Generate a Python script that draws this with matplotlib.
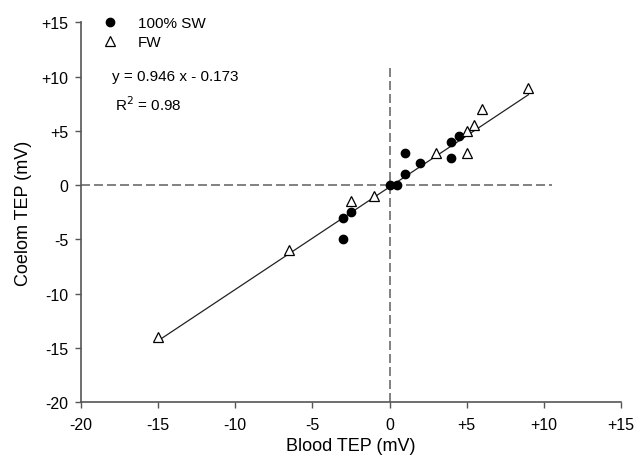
import matplotlib
matplotlib.use("agg")
import matplotlib.pyplot as plt
import numpy as np

plt.rcParams["font.family"] = ["Liberation Sans", "DejaVu Sans"]

# 100% SW (filled circles)
sw_blood = [-3, -3, -2.5, 0, 0.5, 1, 1, 2, 4, 4, 4.5]
sw_coelom = [-5, -3, -2.5, 0, 0, 1, 3, 2, 2.5, 4, 4.5]

# FW (open triangles)
fw_blood = [-15, -6.5, -2.5, -1, 3, 5, 5, 5.5, 6, 9]
fw_coelom = [-14, -6, -1.5, -1, 3, 3, 5, 5.5, 7, 9]

slope = 0.946
intercept = -0.173
fit_x = [-15, 9]

ticks = [-20, -15, -10, -5, 0, 5, 10, 15]
tick_labels = ["-20", "-15", "-10", "-5", "0", "+5", "+10", "+15"]

fig = plt.figure(figsize=(6.41, 4.6), dpi=100)
ax = fig.add_axes([0.126, 0.124, 0.843, 0.825])

dash = (0, (5, 2.2))
ax.plot([-20, 10.5], [0, 0], ls=dash, color="#777777", lw=1.3, zorder=1)
ax.plot([0, 0], [-20, 11], ls=dash, color="#777777", lw=1.3, zorder=1)

fx = np.array(fit_x)
ax.plot(fx, slope * fx + intercept, color="#222222", lw=0.9, zorder=2)

ax.plot(sw_blood, sw_coelom, "o", color="black", ms=6, ls="none",
        label="100% SW", zorder=3)
ax.plot(fw_blood, fw_coelom, "^", mfc="white", mec="black", mew=0.9, ms=6.7,
        ls="none", label="FW", zorder=3)

ax.set_xlim(-20, 15)
ax.set_ylim(-20, 15)
ax.set_xticks(ticks)
ax.set_xticklabels(tick_labels)
ax.set_yticks(ticks)
ax.set_yticklabels(tick_labels)
ax.tick_params(direction="out", length=4, width=1, labelsize=11.5, color="#555555")
ax.tick_params(axis="x", pad=6.5)
ax.tick_params(axis="y", pad=5)
ax.spines["top"].set_visible(False)
ax.spines["right"].set_visible(False)
for s in ["left", "bottom"]:
    ax.spines[s].set_color("#555555")
    ax.spines[s].set_linewidth(1.2)

ax.set_xlabel("Blood TEP (mV)", fontsize=13, labelpad=4)
ax.set_ylabel("Coelom TEP (mV)", fontsize=13, labelpad=7)

ax.legend(loc="upper left", bbox_to_anchor=(0.040, 1.017), frameon=False,
          fontsize=11, handlelength=1, handletextpad=1.3, labelspacing=0.35,
          borderpad=0, borderaxespad=0)

ax.text(-17.95, 10.1, "y = 0.946 x - 0.173", fontsize=11, va="center")
ax.text(-17.8, 7.5, "R$^2$ = 0.98", fontsize=11, va="center")

fig.savefig("out.png", dpi=100)
